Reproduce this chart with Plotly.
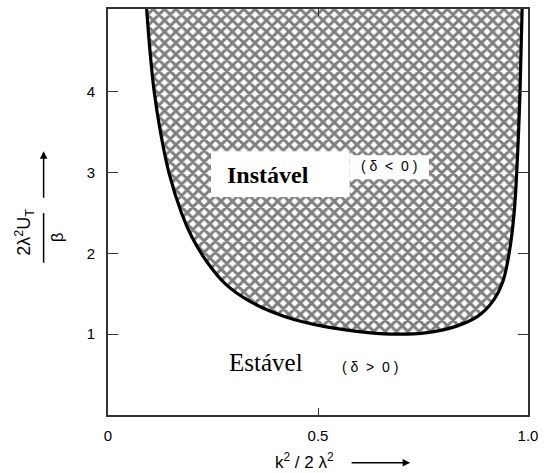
import plotly.graph_objects as go

# Marginal-stability curve of the two-layer baroclinic model
k2_ratio = [0.092, 0.100, 0.110, 0.125, 0.145, 0.175, 0.200, 0.235, 0.280, 0.340,
            0.420, 0.520, 0.620, 0.690, 0.760, 0.830, 0.880, 0.915, 0.940, 0.955,
            0.967, 0.975, 0.981, 0.986]
ut_crit = [5.025, 4.50, 4.00, 3.50, 3.00, 2.50, 2.20, 1.90, 1.62, 1.40,
           1.22, 1.09, 1.02, 1.00, 1.02, 1.10, 1.22, 1.40, 1.65, 2.00,
           2.50, 3.20, 4.00, 5.025]

x_ticks = [0, 0.5, 1.0]
x_ticktext = ["0", "0.5", "1.0"]
y_ticks = [1, 2, 3, 4]
y_ticktext = ["1", "2", "3", "4"]

W, H = 545, 473
ML, MR, MT, MB = 108, 13, 7, 58
PW, PH = W - ML - MR, H - MT - MB
Y_TOP = 5.025


def pxx(px):
    return (px - ML) / PW


def pxy(py):
    return (H - MB - py) / PH


fig = go.Figure()

# Unstable region: cross-hatched area above the curve
fig.add_trace(go.Scatter(
    x=k2_ratio, y=ut_crit, mode="lines", fill="toself",
    line=dict(width=0, color="black", shape="spline", smoothing=1.0),
    fillcolor="white",
    fillpattern=dict(shape="x", size=8, solidity=0.6,
                     fgcolor="black", bgcolor="white"),
    hoverinfo="skip", showlegend=False,
))

# Boundary line
fig.add_trace(go.Scatter(
    x=k2_ratio, y=ut_crit, mode="lines",
    line=dict(width=3.2, color="black", shape="spline", smoothing=1.0),
    hoverinfo="skip", showlegend=False,
))

axis_common = dict(
    showgrid=False, zeroline=False, showline=True, linecolor="#333",
    linewidth=1.6, mirror="ticks", ticks="inside", tickcolor="#333",
    tickwidth=1.4,
    tickfont=dict(family="Liberation Sans, Arial, sans-serif", size=15,
                  color="black"),
)

fig.update_xaxes(range=[0, 1.0], tickvals=x_ticks, ticktext=x_ticktext,
                 ticklen=7, ticklabelstandoff=6, **axis_common)
fig.update_yaxes(range=[0, Y_TOP], tickvals=y_ticks, ticktext=y_ticktext,
                 ticklen=10, ticklabelstandoff=8, **axis_common)

shapes = [
    # white boxes behind the region labels
    dict(type="rect", xref="paper", yref="paper",
         x0=pxx(212), x1=pxx(352), y0=pxy(196), y1=pxy(150),
         fillcolor="white", line=dict(width=0), layer="above"),
    dict(type="rect", xref="paper", yref="paper",
         x0=pxx(352), x1=pxx(432), y0=pxy(178), y1=pxy(154),
         fillcolor="white", line=dict(width=0), layer="above"),
    # fraction bar of the y-axis title
    dict(type="line", xref="paper", yref="paper",
         x0=pxx(43), x1=pxx(43), y0=pxy(262), y1=pxy(212),
         line=dict(color="black", width=1.5)),
]

serif = "Liberation Serif, Times New Roman, serif"
sans = "Liberation Sans, Arial, sans-serif"

annotations = [
    dict(text="<b>Instável</b>", x=pxx(270), y=pxy(174),
         font=dict(family=serif, size=24, color="black")),
    dict(text="( δ  <  0 )", x=pxx(392), y=pxy(165),
         font=dict(family=sans, size=14, color="black")),
    dict(text="Estável", x=pxx(267), y=pxy(362),
         font=dict(family=serif, size=25, color="black")),
    dict(text="( δ  >  0 )", x=pxx(372), y=pxy(367),
         font=dict(family=sans, size=14, color="black")),
    # x-axis title and arrow
    dict(text="k<sup>2</sup> / 2 λ<sup>2</sup>", x=pxx(306), y=pxy(461),
         font=dict(family=sans, size=17, color="black")),
    dict(text="", x=pxx(413), y=pxy(463), ax=-60, ay=0,
         showarrow=True, arrowhead=2, arrowsize=1, arrowwidth=1.5,
         arrowcolor="black"),
    # y-axis title (fraction) and arrow
    dict(text="2λ<sup>2</sup>U<sub>T</sub>", x=pxx(24), y=pxy(231),
         textangle=-90, font=dict(family=sans, size=18, color="black")),
    dict(text="β", x=pxx(57), y=pxy(236), textangle=-90,
         font=dict(family=sans, size=17, color="black")),
    dict(text="", x=pxx(43), y=pxy(150), ax=0, ay=48,
         showarrow=True, arrowhead=2, arrowsize=1, arrowwidth=1.5,
         arrowcolor="black"),
]
for a in annotations:
    a.setdefault("xref", "paper")
    a.setdefault("yref", "paper")
    a.setdefault("showarrow", False)
    a.setdefault("xanchor", "center")
    a.setdefault("yanchor", "middle")

fig.update_layout(
    width=W, height=H,
    margin=dict(l=ML, r=MR, t=MT, b=MB),
    paper_bgcolor="white", plot_bgcolor="white",
    shapes=shapes, annotations=annotations,
)

fig.write_html("out.html")
